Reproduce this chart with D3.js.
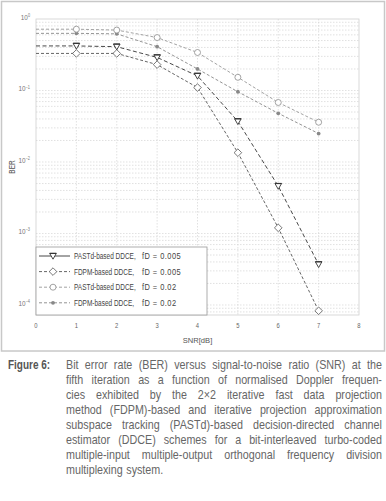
<!DOCTYPE html>
<html>
<head>
<meta charset="utf-8">
<script src="https://cdn.jsdelivr.net/npm/d3@7"></script>
<style>
body { margin: 0; background: #fff; }
svg { display: block; }
</style>
</head>
<body>
<script>
const snr = [0, 1, 2, 3, 4, 5, 6, 7];
const xTicks = [0, 1, 2, 3, 4, 5, 6, 7, 8];
const yDecades = [0, -1, -2, -3, -4];
const berPastd005 = [0.42, 0.42, 0.41, 0.29, 0.16, 0.037, 0.0046, 0.00037];
const berFdpm005 = [0.33, 0.33, 0.33, 0.23, 0.11, 0.0135, 0.0012, 0.000083];
const berPastd02 = [0.72, 0.72, 0.70, 0.55, 0.34, 0.153, 0.068, 0.036];
const berFdpm02 = [0.63, 0.63, 0.62, 0.41, 0.20, 0.096, 0.048, 0.025];
const legendNames = ["PASTd-based DDCE,", "FDPM-based DDCE,", "PASTd-based DDCE,", "FDPM-based DDCE,"];
const legendFd = ["fD = 0.005", "fD = 0.005", "fD = 0.02", "fD = 0.02"];
const captionLines = [
    "Bit error rate (BER) versus signal-to-noise ratio (SNR) at the",
    "fifth iteration as a function of normalised Doppler frequen-",
    "cies exhibited by the 2\u00d72 iterative fast data projection",
    "method (FDPM)-based and iterative projection approximation",
    "subspace tracking (PASTd)-based decision-directed channel",
    "estimator (DDCE) schemes for a bit-interleaved turbo-coded",
    "multiple-input multiple-output orthogonal frequency division",
    "multiplexing system."
];

const series = [
    {vals: berPastd005, color: "#333", dash: "4,2.5", legendDash: null, marker: "tri"},
    {vals: berFdpm005, color: "#555", dash: "3,2", legendDash: "3,2", marker: "dia"},
    {vals: berPastd02, color: "#999", dash: "3,2", legendDash: "3,2", marker: "circ"},
    {vals: berFdpm02, color: "#888", dash: "3,2", legendDash: "3,2", marker: "dot"}
];

const W = 386, H = 501;
const font = "'Liberation Sans', Arial, sans-serif";
const plot = {left: 36, right: 359, top: 19, bottom: 315};

// condensed look: squeeze the text horizontally around its anchor point
function narrow(sel, f, rot) {
    sel.each(function () {
        const t = d3.select(this);
        const tx = +t.attr("x") || 0, ty = +t.attr("y") || 0;
        t.attr("x", 0).attr("y", 0)
            .attr("transform", "translate(" + tx + "," + ty + ")" + (rot ? " rotate(" + rot + ")" : "") + " scale(" + (f || 0.78) + ",1)");
    });
}

const svg = d3.select("body").append("svg")
    .attr("width", W).attr("height", H)
    .style("font-family", font);

// outer frame
svg.append("rect")
    .attr("x", 1.5).attr("y", 1.5).attr("width", 383).attr("height", 349.5)
    .attr("fill", "#fff").attr("stroke", "#c8c8c8").attr("stroke-width", 1.5);

const x = d3.scaleLinear().domain([0, 8]).range([plot.left, plot.right]);
const y = d3.scaleLog().domain([Math.pow(10, -4.14), 1]).range([plot.bottom, plot.top]);

// grid
const grid = svg.append("g");
const minor = [];
for (let e = -5; e < 0; e++) {
    for (let m = 1; m <= 9; m++) {
        const v = m * Math.pow(10, e);
        if (v >= y.domain()[0] && v < 1) minor.push(v);
    }
}
grid.selectAll("line.h").data(minor).enter().append("line")
    .attr("x1", plot.left).attr("x2", plot.right)
    .attr("y1", d => y(d)).attr("y2", d => y(d))
    .attr("stroke", "#d4d4d4").attr("stroke-width", 0.7).attr("stroke-dasharray", "1.5,1.5");
grid.selectAll("line.v").data(xTicks.slice(1, -1)).enter().append("line")
    .attr("x1", d => x(d)).attr("x2", d => x(d))
    .attr("y1", plot.top).attr("y2", plot.bottom)
    .attr("stroke", "#d4d4d4").attr("stroke-width", 0.7).attr("stroke-dasharray", "1.5,1.5");

svg.append("rect")
    .attr("x", plot.left).attr("y", plot.top)
    .attr("width", plot.right - plot.left).attr("height", plot.bottom - plot.top)
    .attr("fill", "none").attr("stroke", "#d0d0d0").attr("stroke-width", 0.8);

// x tick labels
svg.append("g").selectAll("text").data(xTicks).enter().append("text")
    .attr("x", d => x(d)).attr("y", 327.8)
    .attr("text-anchor", "middle").attr("font-size", 7.5).attr("fill", "#666")
    .text(d => d)
    .call(narrow, 0.78);
svg.append("text").attr("x", x(4)).attr("y", 342.8)
    .attr("text-anchor", "middle").attr("font-size", 8).attr("fill", "#555")
    .text("SNR[dB]")
    .call(narrow, 0.95);

// y tick labels
const yl = svg.append("g").selectAll("text").data(yDecades).enter().append("text")
    .attr("x", 30).attr("y", d => y(Math.pow(10, d)) + 1)
    .attr("text-anchor", "end").attr("font-size", 7.5).attr("fill", "#777");
yl.append("tspan").text("10");
yl.append("tspan").attr("dy", -3).attr("font-size", 4.5).text(d => d === 0 ? "0" : "\u2212" + (-d));
yl.call(narrow, 0.85);

svg.append("text")
    .attr("x", 15).attr("y", 167)
    .attr("text-anchor", "middle").attr("font-size", 8.3).attr("fill", "#555")
    .text("BER")
    .call(narrow, 0.78, -90);

// lines and markers
const line = d3.line().x((d, i) => x(snr[i])).y(d => y(d));

function drawMarker(g, type, color) {
    if (type === "tri") {
        g.append("path").attr("d", "M-3.3,-2.6 L3.3,-2.6 L0,3.2 Z")
            .attr("fill", "#fff").attr("stroke", color).attr("stroke-width", 0.9);
        g.append("line").attr("x1", -3.3).attr("x2", 3.3).attr("y1", -2.6).attr("y2", -2.6)
            .attr("stroke", color).attr("stroke-width", 1.2);
    } else if (type === "dia") {
        g.append("path").attr("d", "M0,-3.8 L3.8,0 L0,3.8 L-3.8,0 Z")
            .attr("fill", "#fff").attr("stroke", color).attr("stroke-width", 0.8);
    } else if (type === "circ") {
        g.append("circle").attr("r", 3).attr("fill", "#fff")
            .attr("stroke", color).attr("stroke-width", 0.9);
    } else {
        g.append("circle").attr("r", 1.9).attr("fill", color);
    }
}

series.forEach(s => {
    svg.append("path").datum(s.vals)
        .attr("d", line)
        .attr("fill", "none").attr("stroke", s.color).attr("stroke-width", 0.9)
        .attr("stroke-dasharray", s.dash);
});
series.slice().reverse().forEach(s => {
    s.vals.forEach((v, i) => {
        if (snr[i] < 1) return;
        const g = svg.append("g").attr("transform", "translate(" + x(snr[i]) + "," + y(v) + ")");
        drawMarker(g, s.marker, s.color);
    });
});

// legend
const lg = svg.append("g");
lg.append("rect").attr("x", plot.left).attr("y", 247)
    .attr("width", 171).attr("height", plot.bottom - 247)
    .attr("fill", "#fff").attr("stroke", "#999").attr("stroke-width", 0.8);
series.forEach((s, i) => {
    const ry = 256 + i * 15.6;
    lg.append("line").attr("x1", 39).attr("x2", 70).attr("y1", ry).attr("y2", ry)
        .attr("stroke", s.color).attr("stroke-width", 0.9)
        .attr("stroke-dasharray", s.legendDash);
    drawMarker(lg.append("g").attr("transform", "translate(53," + ry + ")"), s.marker, s.color);
    lg.append("text").attr("x", 74).attr("y", ry + 3)
        .attr("font-size", 8.3).attr("fill", "#444").text(legendNames[i])
        .call(narrow, 0.78);
    lg.append("text").attr("x", 142).attr("y", ry + 3)
        .attr("font-size", 8.3).attr("fill", "#444").attr("letter-spacing", 0.5)
        .text(legendFd[i])
        .call(narrow, 0.9);
});

// caption
const capLeft = 66, capRight = 382, capSize = 12.5, capSqueeze = 0.86;
svg.append("text").attr("x", 8).attr("y", 368.5)
    .attr("font-size", capSize).attr("font-weight", "bold").attr("fill", "#555")
    .text("Figure 6:")
    .call(narrow, 0.8);
const cap = svg.append("g").attr("font-size", capSize).attr("fill", "#666");
captionLines.forEach((ln, li) => {
    const by = 368.5 + li * 15.1;
    const words = ln.split(" ");
    const nodes = words.map(w => cap.append("text").text(w));
    const widths = nodes.map(n => n.node().getComputedTextLength() * capSqueeze);
    const total = d3.sum(widths);
    const last = li === captionLines.length - 1;
    const gap = last ? 3.5 : (capRight - capLeft - total) / (words.length - 1);
    let cx = capLeft;
    nodes.forEach((n, k) => {
        n.attr("x", cx).attr("y", by).call(narrow, capSqueeze);
        cx += widths[k] + gap;
    });
});
</script>
</body>
</html>
